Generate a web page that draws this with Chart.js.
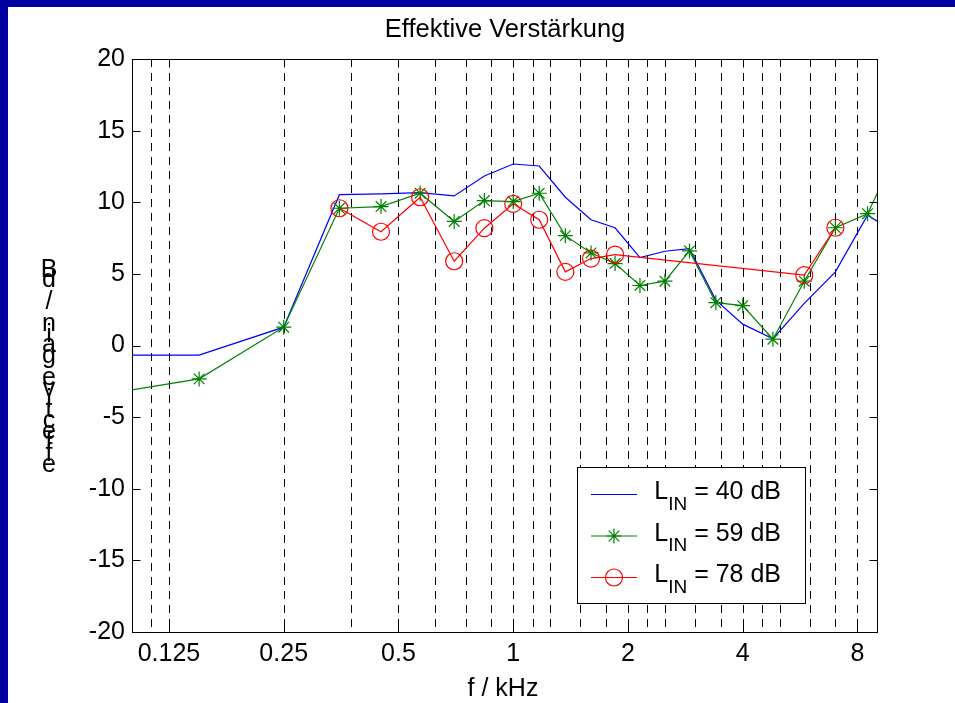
<!DOCTYPE html>
<html>
<head>
<meta charset="utf-8">
<title>Effektive Verstärkung</title>
<script src="https://cdn.jsdelivr.net/npm/chart.js@4.4.1/dist/chart.umd.min.js"></script>
<style>
  html, body { margin: 0; padding: 0; background: #ffffff; overflow: hidden; }
  canvas { display: block; }
</style>
</head>
<body>
<canvas id="gainChart" width="955" height="703"></canvas>
<script>
// Band centre frequencies (kHz) at which the gain was evaluated
const freqKHz = [0.05, 0.15, 0.25, 0.35, 0.45, 0.57, 0.7, 0.84, 1.0, 1.17, 1.37, 1.6,
                 1.85, 2.15, 2.5, 2.9, 3.4, 4.0, 4.8, 5.8, 7.0, 8.5, 10.5];

// Effective gain in dB for the three input levels
const gain40 = [-0.67, -0.67, 1.28, 10.53, 10.58, 10.67, 10.44, 11.83, 12.67, 12.53, 10.35, 8.78,
                8.22, 6.14, 6.58, 6.76, 3.17, 1.49, 0.47, 2.94, 5.14, 9.1, 7.6];
const gain59 = [-4.4, -2.33, 1.28, 9.58, 9.7, 10.63, 8.66, 10.12, 10.05, 10.63, 7.67, 6.46,
                5.72, 4.19, 4.49, 6.6, 2.99, 2.78, 0.44, 4.49, 8.22, 9.2, 14.3];
const gain78 = [null, null, null, 9.58, 7.94, 10.35, 5.88, 8.19, 9.89, 8.78, 5.14, 6.07,
                6.35, null, null, null, null, null, null, 4.91, 8.22, null, null];

const inputLevels = ['40 dB', '59 dB', '78 dB'];

// Audiometric frequencies shown as dashed reference lines (kHz)
const audioFreqs = [0.112, 0.125, 0.25, 0.375, 0.5, 0.625, 0.75, 0.875, 1, 1.125, 1.25, 1.5,
                    1.75, 2, 2.25, 2.5, 3, 3.5, 4, 4.5, 5, 6, 7, 8];

const xTickValues = [0.125, 0.25, 0.5, 1, 2, 4, 8];
const xTickLabels = ['0.125', '0.25', '0.5', '1', '2', '4', '8'];

const FONT = "'Liberation Sans', Arial, Helvetica, sans-serif";
const COLORS = ['#0000FF', '#008000', '#FF0000'];

function toPoints(values) {
  return freqKHz.map((f, i) => ({ x: f, y: values[i] }));
}

function drawStar(ctx, x, y, r) {
  ctx.beginPath();
  for (let k = 0; k < 4; k++) {
    const a = k * Math.PI / 4;
    ctx.moveTo(x - r * Math.cos(a), y - r * Math.sin(a));
    ctx.lineTo(x + r * Math.cos(a), y + r * Math.sin(a));
  }
  ctx.stroke();
}

// White page with the blue window frame along the top and left
const framePlugin = {
  id: 'frame',
  beforeDraw(chart) {
    const { ctx, width, height } = chart;
    ctx.save();
    ctx.fillStyle = '#ffffff';
    ctx.fillRect(0, 0, width, height);
    ctx.fillStyle = '#0000A0';
    ctx.fillRect(0, 0, width, 7);
    ctx.fillRect(0, 0, 8, height);
    ctx.restore();
  }
};

// Dashed vertical lines at the audiometric frequencies
const refLinesPlugin = {
  id: 'refLines',
  beforeDatasetsDraw(chart) {
    const { ctx, chartArea: a, scales: { x } } = chart;
    ctx.save();
    ctx.beginPath();
    ctx.rect(a.left, a.top, a.right - a.left, a.bottom - a.top);
    ctx.clip();
    ctx.strokeStyle = '#000000';
    ctx.lineWidth = 1;
    ctx.setLineDash([8, 6]);
    audioFreqs.forEach(f => {
      const px = Math.round(x.getPixelForValue(f)) + 0.5;
      ctx.beginPath();
      ctx.moveTo(px, a.top);
      ctx.lineTo(px, a.bottom);
      ctx.stroke();
    });
    ctx.restore();
  }
};

// Axes box with inward tick marks on all four sides
const axesBoxPlugin = {
  id: 'axesBox',
  afterDatasetsDraw(chart) {
    const { ctx, chartArea: a, scales: { x, y } } = chart;
    const L = Math.round(a.left) + 0.5, R = Math.round(a.right) + 0.5;
    const T = Math.round(a.top) + 0.5, B = Math.round(a.bottom) + 0.5;
    const tl = 8;
    ctx.save();
    ctx.strokeStyle = '#000000';
    ctx.lineWidth = 1;
    ctx.setLineDash([]);
    ctx.strokeRect(L, T, R - L, B - T);
    ctx.beginPath();
    y.ticks.forEach(t => {
      const py = Math.round(y.getPixelForValue(t.value)) + 0.5;
      ctx.moveTo(L, py); ctx.lineTo(L + tl, py);
      ctx.moveTo(R, py); ctx.lineTo(R - tl, py);
    });
    x.ticks.forEach(t => {
      const px = Math.round(x.getPixelForValue(t.value)) + 0.5;
      ctx.moveTo(px, B); ctx.lineTo(px, B - tl);
      ctx.moveTo(px, T); ctx.lineTo(px, T + tl);
    });
    ctx.stroke();
    ctx.restore();
  }
};

// Title, axis labels and the legend box
const annotationPlugin = {
  id: 'annotations',
  afterDraw(chart) {
    const { ctx, chartArea: a } = chart;
    const cx = (a.left + a.right) / 2;
    ctx.save();
    ctx.fillStyle = '#000000';
    ctx.textBaseline = 'alphabetic';

    ctx.textAlign = 'center';
    ctx.font = `25.5px ${FONT}`;
    ctx.fillText('Effektive Verstärkung', cx + 0.5, 36.7);

    ctx.font = `25px ${FONT}`;
    ctx.fillText('f / kHz', cx - 1.5, 696);

    // y label: characters stacked upright, read from the bottom up
    const yLabel = 'effective gain / dB';
    for (let i = 0; i < yLabel.length; i++) {
      ctx.fillText(yLabel[i], 49, 471.6 - i * 10.83);
    }

    // legend
    const lx0 = 577.5, ly0 = 467.5, lx1 = 805.5, ly1 = 603.5;
    ctx.fillStyle = '#ffffff';
    ctx.fillRect(lx0, ly0, lx1 - lx0, ly1 - ly0);
    ctx.strokeStyle = '#000000';
    ctx.lineWidth = 1;
    ctx.strokeRect(lx0, ly0, lx1 - lx0, ly1 - ly0);

    const rows = [494.5, 536, 577.5];
    inputLevels.forEach((lvl, i) => {
      const ry = rows[i];
      ctx.strokeStyle = COLORS[i];
      ctx.lineWidth = 1.2;
      ctx.beginPath();
      ctx.moveTo(591, ry);
      ctx.lineTo(637, ry);
      ctx.stroke();
      if (i === 1) drawStar(ctx, 614, ry, 7.5);
      if (i === 2) {
        ctx.beginPath();
        ctx.arc(614, ry, 8.5, 0, Math.PI * 2);
        ctx.stroke();
      }
      ctx.fillStyle = '#000000';
      ctx.textAlign = 'left';
      ctx.font = `25px ${FONT}`;
      ctx.fillText('L', 654.3, ry + 4.5);
      const wL = ctx.measureText('L').width;
      ctx.font = `19px ${FONT}`;
      ctx.fillText('IN', 654.3 + wL, ry + 15);
      const wIN = ctx.measureText('IN').width;
      ctx.font = `25px ${FONT}`;
      ctx.fillText(' = ' + lvl, 654.3 + wL + wIN, ry + 4.5);
    });
    ctx.restore();
  }
};

new Chart(document.getElementById('gainChart'), {
  type: 'line',
  data: {
    datasets: [
      {
        label: 'L_IN = ' + inputLevels[0],
        data: toPoints(gain40),
        borderColor: COLORS[0],
        borderWidth: 1.2,
        pointRadius: 0,
        tension: 0,
        order: 3
      },
      {
        label: 'L_IN = ' + inputLevels[1],
        data: toPoints(gain59),
        borderColor: COLORS[1],
        borderWidth: 1.2,
        pointStyle: 'star',
        pointRadius: 7.5,
        pointBorderColor: COLORS[1],
        pointBorderWidth: 1.2,
        tension: 0,
        order: 2
      },
      {
        label: 'L_IN = ' + inputLevels[2],
        data: toPoints(gain78),
        borderColor: COLORS[2],
        borderWidth: 1.2,
        pointStyle: 'circle',
        pointRadius: 8.5,
        pointBorderColor: COLORS[2],
        pointBackgroundColor: 'rgba(0,0,0,0)',
        pointBorderWidth: 1.2,
        spanGaps: true,
        tension: 0,
        order: 1
      }
    ]
  },
  options: {
    responsive: false,
    animation: false,
    devicePixelRatio: 1,
    layout: { padding: { left: 0, right: 78, top: 59, bottom: 0 } },
    plugins: {
      legend: { display: false },
      title: { display: false },
      tooltip: { enabled: false }
    },
    scales: {
      x: {
        type: 'logarithmic',
        position: 'bottom',
        min: 0.1,
        max: 9,
        afterBuildTicks: s => { s.ticks = xTickValues.map(v => ({ value: v })); },
        afterFit: s => { s.height = 71; },
        grid: { display: false, drawTicks: false },
        border: { display: false },
        ticks: {
          autoSkip: false,
          maxRotation: 0,
          padding: 7,
          color: '#000000',
          font: { family: FONT, size: 25 },
          callback: (v, i) => xTickLabels[i]
        }
      },
      y: {
        min: -20,
        max: 20,
        afterFit: s => { s.width = 132; },
        grid: { display: false, drawTicks: false },
        border: { display: false },
        ticks: {
          stepSize: 5,
          padding: 7,
          color: '#000000',
          font: { family: FONT, size: 25 }
        }
      }
    }
  },
  plugins: [framePlugin, refLinesPlugin, axesBoxPlugin, annotationPlugin]
});
</script>
</body>
</html>
